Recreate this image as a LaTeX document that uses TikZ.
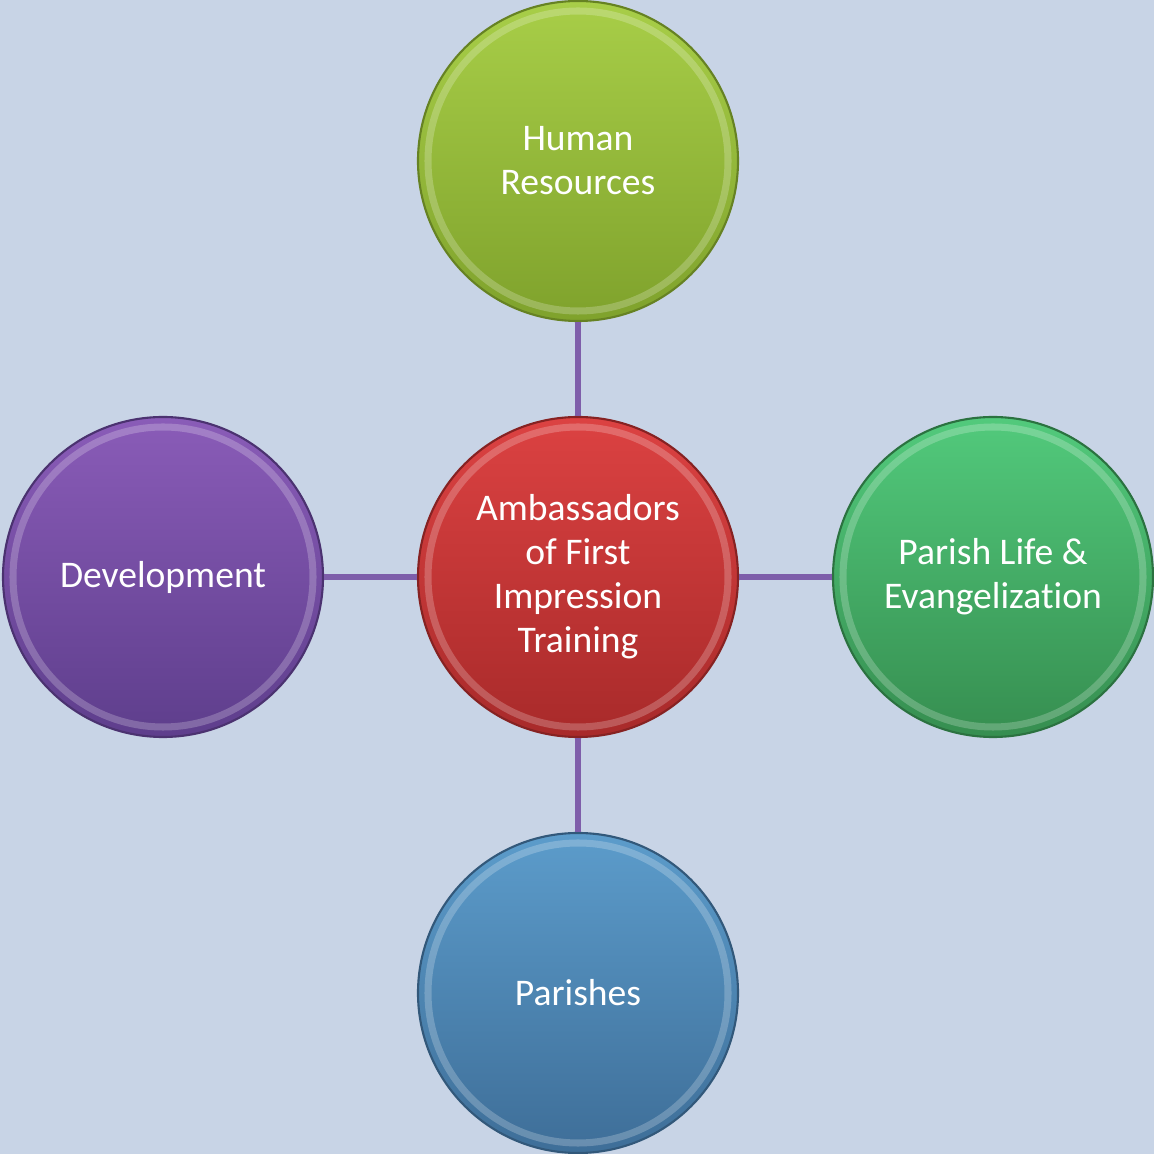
\documentclass[tikz,border=0pt]{standalone}
\usepackage{fontspec}
\setmainfont{Carlito}[Ligatures=NoCommon]
\usepackage{xcolor}

\definecolor{paper}{HTML}{C8D4E6}
\definecolor{linkpurple}{HTML}{7E5EAA}
\definecolor{hrtop}{HTML}{A8CE48}
\definecolor{hrbot}{HTML}{7FA22C}
\definecolor{ambtop}{HTML}{DC4242}
\definecolor{ambbot}{HTML}{A82A2A}
\definecolor{devtop}{HTML}{8A5CB8}
\definecolor{devbot}{HTML}{5E3E8C}
\definecolor{partop}{HTML}{52CA7C}
\definecolor{parbot}{HTML}{368E50}
\definecolor{pshtop}{HTML}{5C9CCB}
\definecolor{pshbot}{HTML}{3E6E98}

\begin{document}
\begin{tikzpicture}[
    bubble/.style n args={2}{circle, minimum size=3.2cm, inner sep=0pt,
      top color=#1, bottom color=#2, draw=#2!80!black, line width=0.6pt,
      text=white, align=center, font=\fontsize{10.7}{12.5}\selectfont,
      path picture={\draw[white, opacity=0.22, line width=2pt]
        (path picture bounding box.center) circle (1.5cm);}},
    link/.style={linkpurple, line width=1.7pt}
  ]

      \fill[paper] (0, 0) rectangle (11.54, 11.54);
      \useasboundingbox (0, 0) rectangle (11.54, 11.54);

      \node[bubble={ambtop}{ambbot}] (amb) at (5.78, 5.77) {Ambassadors\\of First\\Impression\\Training};

      \node[bubble={hrtop}{hrbot}] (hr) at (5.78, 9.93) {Human\\Resources};
      \node[bubble={devtop}{devbot}] (dev) at (1.63, 5.77) {Development};
      \node[bubble={partop}{parbot}] (parlife) at (9.93, 5.77) {Parish Life \&\\Evangelization};
      \node[bubble={pshtop}{pshbot}] (parishes) at (5.78, 1.61) {Parishes};

      \draw[link] (amb) -- (hr);
      \draw[link] (amb) -- (dev);
      \draw[link] (amb) -- (parlife);
      \draw[link] (amb) -- (parishes);

    \end{tikzpicture}
\end{document}
